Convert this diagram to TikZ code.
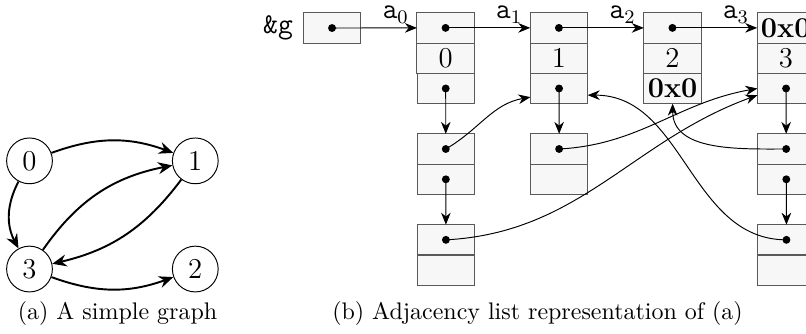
\documentclass[tikz,border=0pt]{standalone}
\usepackage{amsmath}
\usepackage{amssymb}
\usepackage{tikz}
\usetikzlibrary{positioning,arrows.meta}

\begin{document}
\begin{tikzpicture}[scale=1.03,
		celda/.style={draw=black!65,fill=black!3,font=\large,minimum width=0.84cm,minimum height=0.444cm,inner sep=0pt,outer sep=0pt},
		vertice/.style={draw,circle,font=\large},
		etiqueta/.style={font=\large,inner sep=1.8pt},
		arista/.style={thick,-{Stealth[length=6pt,width=5pt,inset=2pt]}},
		flecha/.style={-{Stealth[length=5pt,width=4pt,inset=1.6pt]}},
		punto/.style={fill=black}
	] % grafo y lista de adyacencia
		\useasboundingbox (0,0) rectangle (11.474,-4.741);
		% Grafo (a)
		\node[vertice] (v0) at (0.42,-2.29) {$0$};
		\node[vertice] (v1) at (2.78,-2.29) {$1$};
		\node[vertice] (v3) at (0.42,-3.83) {$3$};
		\node[vertice] (v2) at (2.78,-3.83) {$2$};
		\draw[arista] (v0) to[bend left=20] (v1);
		\draw[arista] (v0) to[bend right=28] (v3);
		\draw[arista] (v3) to[bend left=22] (v1);
		\draw[arista] (v1) to[bend left=20] (v3);
		\draw[arista] (v3) to[bend right=20] (v2);
		% Nivel principal
		\node[etiqueta] (g) at (3.958,-0.399) {\texttt{\&g}};
		\node[celda] (G) at (4.726,-0.399) {};
		\node[celda] (A0-1) at (6.342,-0.397) {};
		\node[celda,below=0pt of A0-1] (A0-2) {0};
		\node[celda,below=0pt of A0-2] (A0-3) {};
		\node[celda] (A1-1) at (7.955,-0.397) {};
		\node[celda,below=0pt of A1-1] (A1-2) {1};
		\node[celda,below=0pt of A1-2] (A1-3) {};
		\node[celda] (A2-1) at (9.571,-0.397) {};
		\node[celda,below=0pt of A2-1] (A2-2) {2};
		\node[celda,below=0pt of A2-2] (A2-3) {\textbf{0x0}};
		\node[celda] (A3-1) at (11.185,-0.397) {\textbf{0x0}};
		\node[celda,below=0pt of A3-1] (A3-2) {3};
		\node[celda,below=0pt of A3-2] (A3-3) {};
		% Nivel listas
		\node[celda,below=0.443cm of A0-3] (L0-1) {};
		\node[celda,below=0pt of L0-1] (L0-2) {};
		\node[celda,below=0.443cm of L0-2] (M0-1) {};
		\node[celda,below=0pt of M0-1] (M0-2) {};
		\node[celda,below=0.443cm of A1-3] (L1-1) {};
		\node[celda,below=0pt of L1-1] (L1-2) {};
		\node[celda,below=0.443cm of A3-3] (L3-1) {};
		\node[celda,below=0pt of L3-1] (L3-2) {};
		\node[celda,below=0.443cm of L3-2] (M3-1) {};
		\node[celda,below=0pt of M3-1] (M3-2) {};
		% Punteros
		\fill[punto] (G) circle (1.6pt);
		\draw[flecha] (G.center) -- (A0-1.west) node[etiqueta,pos=.75,above] {$\mathtt{a}_0$};
		\fill[punto] (A0-1) circle (1.6pt);
		\draw[flecha] (A0-1.center) -- (A1-1.west) node[etiqueta,pos=.75,above] {$\mathtt{a}_1$};
		\fill[punto] (A1-1) circle (1.6pt);
		\draw[flecha] (A1-1.center) -- (A2-1.west) node[etiqueta,pos=.75,above] {$\mathtt{a}_2$};
		\fill[punto] (A2-1) circle (1.6pt);
		\draw[flecha] (A2-1.center) -- (A3-1.west) node[etiqueta,pos=.75,above] {$\mathtt{a}_3$};
		\fill[punto] (A0-3) circle (1.6pt);
		\draw[flecha] (A0-3.center) -- (L0-1.north);
		\fill[punto] (L0-2) circle (1.6pt);
		\draw[flecha] (L0-2.center) -- (M0-1.north);
		\fill[punto] (A1-3) circle (1.6pt);
		\draw[flecha] (A1-3.center) -- (L1-1.north);
		\fill[punto] (A3-3) circle (1.6pt);
		\draw[flecha] (A3-3.center) -- (L3-1.north);
		\fill[punto] (L3-2) circle (1.6pt);
		\draw[flecha] (L3-2.center) -- (M3-1.north);
		% Aristas de la lista
		\fill[punto] (L0-1) circle (1.6pt);
		\draw[flecha] (L0-1.center) to[out=30,in=190] ([yshift=-3.5pt]A1-3.west);
		\fill[punto] (L1-1) circle (1.6pt);
		\draw[flecha] (L1-1.center) to[out=3,in=190] (A3-3.west);
		\fill[punto] (M0-1) circle (1.6pt);
		\draw[flecha] (M0-1.center) to[out=3,in=200] ([yshift=-2.7pt]A3-3.west);
		\fill[punto] (L3-1) circle (1.6pt);
		\draw[flecha] (L3-1.center) to[out=180,in=-90] (A2-3.south);
		\fill[punto] (M3-1) circle (1.6pt);
		\draw[flecha] (M3-1.center) to[out=180,in=0] ([yshift=-2.7pt]A1-3.east);
		% Leyendas
		\node (capa) at (1.673,-4.456) {(a) A simple graph};
		\node (capb) at (7.652,-4.456) {(b) Adjacency list representation of (a)};
	\end{tikzpicture}
\end{document}
